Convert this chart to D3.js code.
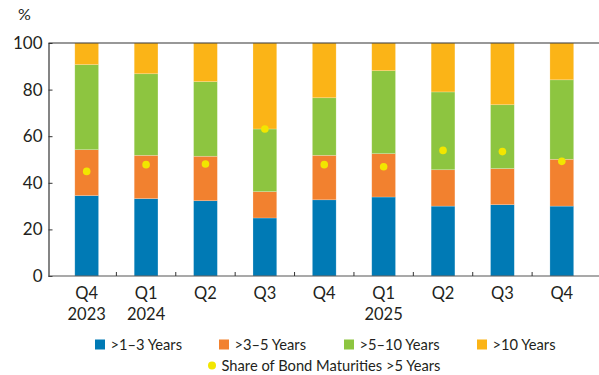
<!DOCTYPE html>
<html>
<head>
<meta charset="utf-8">
<script src="https://cdn.jsdelivr.net/npm/d3@7"></script>
<style>
  body { margin: 0; background: #fff; }
  text { font-family: Lato, "Open Sans", sans-serif; fill: #231f20; }
</style>
</head>
<body>
<svg id="chart" width="599" height="375"></svg>
<script>
// Quarter categories and their two-line tick labels
const categories = ["Q4 2023", "Q1 2024", "Q2 2024", "Q3 2024", "Q4 2024", "Q1 2025", "Q2 2025", "Q3 2025", "Q4 2025"];
const quarterLabels = ["Q4", "Q1", "Q2", "Q3", "Q4", "Q1", "Q2", "Q3", "Q4"];
const yearLabels = ["2023", "2024", "", "", "", "2025", "", "", ""];

// Maturity buckets, % of issuance
const yrs1to3  = [34.5, 33.2, 32.3, 24.9, 32.7, 33.9, 30.0, 30.6, 30.0];
const yrs3to5  = [19.7, 18.6, 19.1, 11.3, 19.1, 18.6, 15.6, 15.5, 20.1];
const yrs5to10 = [36.5, 35.0, 32.0, 26.9, 24.7, 35.6, 33.4, 27.4, 34.1];
const yrs10up  = [ 9.3, 13.2, 16.6, 36.9, 23.5, 11.9, 21.0, 26.5, 15.8];

// Share of bond maturities longer than 5 years, %
const shareOver5 = [44.9, 47.8, 48.1, 63.1, 47.8, 46.9, 53.9, 53.4, 49.2];

const seriesKeys = ["a", "b", "c", "d"];
const seriesNames = [">1\u20133 Years", ">3\u20135 Years", ">5\u201310 Years", ">10 Years"];
const seriesColors = ["#007ab5", "#f2812f", "#8dc540", "#fbb417"];
const dotColor = "#f2e600";
const yTicks = [0, 20, 40, 60, 80, 100];

const rows = categories.map((c, i) => ({
  cat: c, a: yrs1to3[i], b: yrs3to5[i], c: yrs5to10[i], d: yrs10up[i]
}));

const svg = d3.select("#chart");
const plotLeft = 48.5, plotRight = 599, plotTop = 43, plotBottom = 276;

const x = d3.scaleBand().domain(categories).range([57, 591.5])
  .paddingInner(0.6).paddingOuter(0.3);
const y = d3.scaleLinear().domain([0, 100]).range([plotBottom, plotTop]);

const stacked = d3.stack().keys(seriesKeys)(rows);

// Stacked bars
svg.append("g").selectAll("g").data(stacked).join("g")
  .attr("fill", (d, i) => seriesColors[i])
  .selectAll("rect").data(d => d).join("rect")
  .attr("x", d => x(d.data.cat))
  .attr("width", x.bandwidth())
  .attr("y", d => y(d[1]))
  .attr("height", d => y(d[0]) - y(d[1]))
  .attr("stroke", "#ffffff")
  .attr("stroke-opacity", 0.35)
  .attr("stroke-width", 0.6);

// Share >5 years markers
svg.append("g").selectAll("circle").data(shareOver5).join("circle")
  .attr("cx", (d, i) => x(categories[i]) + x.bandwidth() / 2)
  .attr("cy", d => y(d))
  .attr("r", 3.8)
  .attr("fill", dotColor);

// Y axis with inward ticks
const yAxis = svg.append("g")
  .attr("transform", `translate(${plotLeft},0)`)
  .call(d3.axisLeft(y).tickValues(yTicks).tickSizeInner(-4).tickSizeOuter(0).tickPadding(6));
yAxis.select(".domain").attr("stroke", "#333").attr("stroke-width", 1.2);
yAxis.selectAll(".tick line").attr("stroke", "#333");
yAxis.selectAll(".tick text").attr("font-size", 17).style("font-family", "Lato, sans-serif").attr("fill", "#231f20");

// Top frame line and baseline
svg.append("line").attr("x1", plotLeft).attr("x2", plotRight).attr("y1", y(100)).attr("y2", y(100))
  .attr("stroke", "#333").attr("stroke-width", 1.2);
svg.append("line").attr("x1", plotLeft).attr("x2", plotRight).attr("y1", y(0)).attr("y2", y(0))
  .attr("stroke", "#555").attr("stroke-width", 1.2);

// Category separator ticks on the baseline
const step = x.step();
svg.append("g").selectAll("line").data(categories.slice(0, -1)).join("line")
  .attr("x1", d => x(d) + x.bandwidth() / 2 + step / 2)
  .attr("x2", d => x(d) + x.bandwidth() / 2 + step / 2)
  .attr("y1", y(0)).attr("y2", y(0) - 4)
  .attr("stroke", "#333");

// Two-line category labels
const xl = svg.append("g").attr("font-size", 16.5).attr("text-anchor", "middle");
xl.selectAll("text.q").data(categories).join("text").attr("class", "q")
  .attr("x", d => x(d) + x.bandwidth() / 2).attr("y", 299)
  .text((d, i) => quarterLabels[i]);
xl.selectAll("text.yr").data(categories).join("text").attr("class", "yr")
  .attr("x", d => x(d) + x.bandwidth() / 2).attr("y", 319.5)
  .text((d, i) => yearLabels[i]);

// Unit label
svg.append("text").attr("x", 18).attr("y", 20).attr("font-size", 16).text("%");

// Legend
const legendX = [95, 219, 344, 477];
const lg = svg.append("g").attr("font-size", 14.7);
seriesNames.forEach((name, i) => {
  lg.append("rect").attr("x", legendX[i]).attr("y", 339.5).attr("width", 10).attr("height", 10)
    .attr("fill", seriesColors[i]);
  lg.append("text").attr("x", legendX[i] + 15.5).attr("y", 349.5).text(name);
});
lg.append("circle").attr("cx", 212).attr("cy", 365.5).attr("r", 4).attr("fill", dotColor);
lg.append("text").attr("x", 221.5).attr("y", 370.5).text("Share of Bond Maturities >5 Years");
</script>
</body>
</html>
